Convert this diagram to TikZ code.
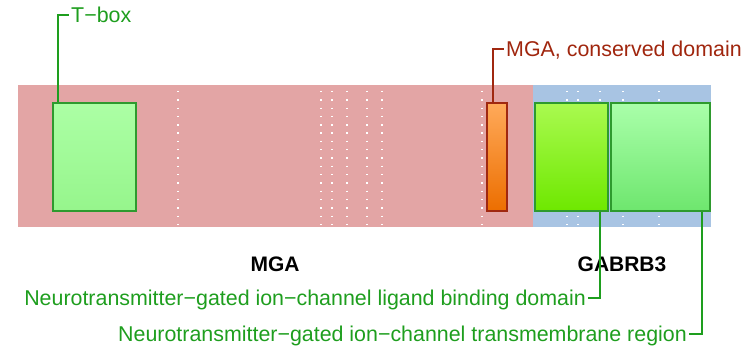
\documentclass[tikz,border=0pt]{standalone}
\usepackage{fontspec}
\setmainfont{Liberation Sans}
\definecolor{pinkbg}{HTML}{E3A5A5}
\definecolor{bluebg}{HTML}{A8C4E3}
\definecolor{lblgreen}{HTML}{1E9E1E}
\definecolor{boxgreen}{HTML}{2E9A2E}
\definecolor{lbldred}{HTML}{A0260E}
\definecolor{orborder}{HTML}{A02810}
\tikzset{
  domainbox/.style={draw=boxgreen, line width=1.8pt, anchor=north west, inner sep=0pt},
  dotline/.style={white, line width=1.4pt, dash pattern=on 1.4pt off 6.9pt},
  lbl/.style={font=\fontsize{21.4}{25}\selectfont, text height=15.3pt, text depth=0pt, inner sep=2pt},
  genelbl/.style={font=\fontsize{21}{25}\selectfont\bfseries, text=black},
  gline/.style={draw=lblgreen, line width=1.6pt},
}
\begin{document}
\begin{tikzpicture}[x=1pt,y=-1pt]
\useasboundingbox (0,0) rectangle (752,350);
% gene backgrounds
\fill[pinkbg] (18,85) rectangle (533,227);
\fill[bluebg] (533,85) rectangle (711,227);
% dotted separators
\foreach \x in {178,321,332,347,367,382,482,567,578,600,623,659}
  \draw[dotline] (\x,91) -- (\x,227);
% domains
\node[domainbox, top color={rgb,255:red,172;green,255;blue,165}, bottom color={rgb,255:red,150;green,245;blue,140}, minimum width=83pt, minimum height=108pt] (tbox) at (52,102) {};
\node[domainbox, draw=orborder, top color={rgb,255:red,255;green,170;blue,90}, bottom color={rgb,255:red,236;green,110;blue,0},
  minimum width=20pt, minimum height=108pt] (cons) at (486,102) {};
\node[domainbox, top color={rgb,255:red,170;green,250;blue,80}, bottom color={rgb,255:red,110;green,232;blue,0},
  minimum width=73pt, minimum height=108pt] (lig) at (534,102) {};
\node[domainbox, top color={rgb,255:red,170;green,255;blue,170}, bottom color={rgb,255:red,110;green,230;blue,110},
  minimum width=99pt, minimum height=108pt] (tm) at (610,102) {};
% gene labels
\node[genelbl] (mga) at (275,264) {MGA};
\node[genelbl] (gab) at (622,264) {GABRB3};
% domain labels
\node[lbl, text=lblgreen, anchor=west] (tlab) at (69,15) {T−box};
\node[lbl, text=lbldred, anchor=west] (clab) at (504,49) {MGA, conserved domain};
\node[lbl, text=lblgreen, anchor=east] (liglab) at (588,298) {Neurotransmitter−gated ion−channel ligand binding domain};
\node[lbl, text=lblgreen, anchor=east] (tmlab) at (689,334) {Neurotransmitter−gated ion−channel transmembrane region};
% connectors
\coordinate (t1) at ([xshift=6pt]tbox.north west);
\draw[gline] (t1) |- (tlab.west);
\coordinate (c1) at ([xshift=7pt]cons.north west);
\draw[draw=orborder, line width=1.6pt] (c1) |- (clab.west);
\coordinate (l1) at ([xshift=66pt]lig.south west);
\draw[gline] (l1) |- (liglab.east);
\coordinate (m1) at ([xshift=92pt]tm.south west);
\draw[gline] (m1) |- (tmlab.east);
\end{tikzpicture}
\end{document}
